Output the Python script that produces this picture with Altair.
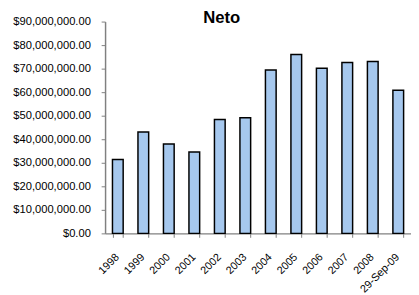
import altair as alt
import pandas as pd

years = ["1998", "1999", "2000", "2001", "2002", "2003", "2004", "2005",
         "2006", "2007", "2008", "29-Sep-09"]
neto = [31.4e6, 43.1e6, 38.0e6, 34.6e6, 48.4e6, 49.1e6, 69.4e6, 76.0e6,
        70.2e6, 72.6e6, 73.0e6, 60.8e6]
y_ticks = [0, 10e6, 20e6, 30e6, 40e6, 50e6, 60e6, 70e6, 80e6, 90e6]

df = pd.DataFrame({"year": years, "neto": neto})

chart = alt.Chart(df).mark_bar(
    color="#A6C8EE", stroke="#000000", strokeWidth=1.5
).encode(
    x=alt.X("year:N", sort=years, title=None,
            scale=alt.Scale(paddingInner=0.58, paddingOuter=0.29),
            axis=alt.Axis(labelAngle=-45, labelAlign="right", labelBaseline="top",
                          labelPadding=14, labelOffset=-5, tickBand="extent",
                          labelFont="Liberation Sans", labelFontSize=11,
                          labelColor="#000000", domainColor="#808080",
                          tickColor="#808080", tickSize=4, domainWidth=1.5)),
    y=alt.Y("neto:Q", title=None,
            scale=alt.Scale(domain=[0, 90e6], nice=False),
            axis=alt.Axis(values=y_ticks, format="$,.2f", grid=False,
                          labelFont="Liberation Sans", labelFontSize=11.4,
                          labelColor="#000000", domainColor="#808080",
                          tickColor="#808080", tickSize=4, labelPadding=11,
                          domainWidth=1.5)),
).properties(
    width=312, height=216,
    title=alt.TitleParams("Neto", font="Liberation Sans", fontSize=17,
                          fontWeight="bold", color="#000000", dx=-37,
                          dy=11, offset=0, anchor="middle"),
    autosize=alt.AutoSizeParams(type="none"),
    padding={"left": 99, "top": 11, "right": 0, "bottom": 60},
).configure_view(stroke=None)

chart.save("out.html", embed_options={"renderer": "svg", "actions": False})
